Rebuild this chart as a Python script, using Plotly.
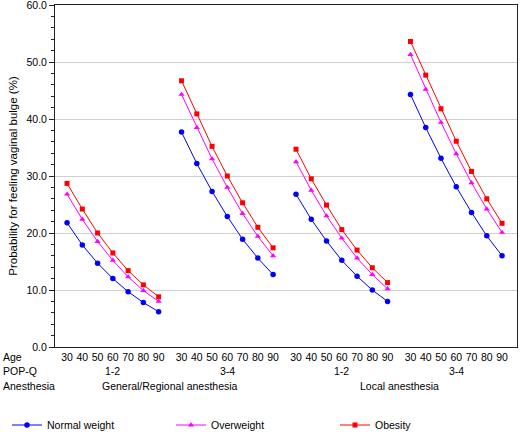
import plotly.graph_objects as go

ages = [30, 40, 50, 60, 70, 80, 90]
pop_q = ["1-2", "3-4", "1-2", "3-4"]
anesthesia = ["General/Regional anesthesia", "Local anesthesia"]

# values per group (GA 1-2, GA 3-4, LA 1-2, LA 3-4), each 7 ages
normal = [
    [21.8, 17.9, 14.7, 12.0, 9.7, 7.8, 6.2],
    [37.7, 32.2, 27.3, 22.9, 18.9, 15.6, 12.7],
    [26.8, 22.4, 18.6, 15.2, 12.4, 10.0, 8.0],
    [44.3, 38.5, 33.1, 28.1, 23.6, 19.5, 16.0],
]
overweight = [
    [26.8, 22.4, 18.5, 15.2, 12.3, 9.9, 8.0],
    [44.3, 38.5, 33.0, 28.0, 23.4, 19.4, 16.0],
    [32.5, 27.5, 23.0, 19.1, 15.6, 12.7, 10.2],
    [51.3, 45.2, 39.4, 33.9, 28.8, 24.2, 20.1],
]
obesity = [
    [28.7, 24.2, 20.0, 16.5, 13.4, 10.9, 8.8],
    [46.7, 40.9, 35.2, 30.0, 25.3, 21.0, 17.4],
    [34.7, 29.5, 24.9, 20.6, 17.0, 13.9, 11.3],
    [53.6, 47.7, 41.8, 36.1, 30.8, 26.0, 21.7],
]

GROUP_STEP = 7.5
FONT = "Liberation Sans, Arial, sans-serif"

series = [
    ("Normal weight", normal, "#0000FF", "circle", 5.5),
    ("Overweight", overweight, "#FF00FF", "triangle-up", 5.5),
    ("Obesity", obesity, "#FF0000", "square", 5),
]

fig = go.Figure()
tickvals, ticktext = [], []
for g in range(4):
    for i, a in enumerate(ages):
        tickvals.append(g * GROUP_STEP + i)
        ticktext.append(str(a))

for name, data, color, sym, sz in series:
    for g in range(4):
        xs = [g * GROUP_STEP + i for i in range(len(ages))]
        fig.add_trace(go.Scatter(
            x=xs, y=data[g], mode="lines+markers", name=name,
            legendgroup=name, showlegend=(g == 0),
            line=dict(color=color, width=1),
            marker=dict(color=color, symbol=sym, size=sz),
        ))

L, R, T, B = 55, 3, 5, 85
W, H = 520, 432
pw = W - L - R
ph = H - T - B

def px_to_xpaper(px):
    return (px - L) / pw

annotations = []
row_labels = [("Age", 357), ("POP-Q", 371), ("Anesthesia", 386)]
for txt, py in row_labels:
    annotations.append(dict(text=txt, xref="paper", yref="paper", x=px_to_xpaper(1), y=0,
                            xanchor="left", yanchor="middle", yshift=-(py - (H - B)),
                            showarrow=False, font=dict(family=FONT, size=10.5, color="#000")))
for g, p in enumerate(pop_q):
    annotations.append(dict(text=p, xref="x", yref="paper", x=g * GROUP_STEP + 3, y=0,
                            xanchor="center", yanchor="middle", yshift=-(371 - (H - B)),
                            showarrow=False, font=dict(family=FONT, size=10.5, color="#000")))
for k, an in enumerate(anesthesia):
    annotations.append(dict(text=an, xref="x", yref="paper", x=(2 * k) * GROUP_STEP + 3 + GROUP_STEP / 2,
                            y=0, xanchor="center", yanchor="middle", yshift=-(386 - (H - B)),
                            showarrow=False, font=dict(family=FONT, size=10.5, color="#000")))

fig.update_layout(
    width=W, height=H,
    margin=dict(l=L, r=R, t=T, b=B, autoexpand=False),
    paper_bgcolor="white", plot_bgcolor="white",
    font=dict(family=FONT, size=10.5, color="#000"),
    showlegend=True,
    legend=dict(orientation="h", x=px_to_xpaper(7), xanchor="left",
                y=(H - B - 425) / ph, yanchor="middle",
                entrywidth=119, entrywidthmode="pixels",
                font=dict(family=FONT, size=10.5), bgcolor="rgba(0,0,0,0)"),
    annotations=annotations,
)
fig.update_xaxes(
    range=[-0.79, 29.48], tickvals=tickvals, ticktext=ticktext, ticks="",
    showgrid=False, zeroline=False, showline=True, linecolor="#222", linewidth=1,
    mirror=True, tickfont=dict(family=FONT, size=10.5), automargin=False,
)
fig.update_yaxes(
    range=[0, 60], dtick=10, tickformat=".1f", ticks="outside", ticklen=5, tickcolor="#222",
    minor=dict(dtick=2, ticks="outside", ticklen=3, tickcolor="#222", showgrid=False),
    showgrid=True, gridcolor="#d0d0d0", gridwidth=1, zeroline=False,
    showline=True, linecolor="#222", linewidth=1, mirror=True, automargin=False,
    ticklabeloverflow="allow",
    title=dict(text="Probability for feeling vaginal bulge (%)", font=dict(family=FONT, size=11.5), standoff=6),
    tickfont=dict(family=FONT, size=10.5),
)

fig.write_html("out.html", config={"displayModeBar": False},
               post_script="document.body.style.margin='0';document.body.style.overflow='hidden';")
